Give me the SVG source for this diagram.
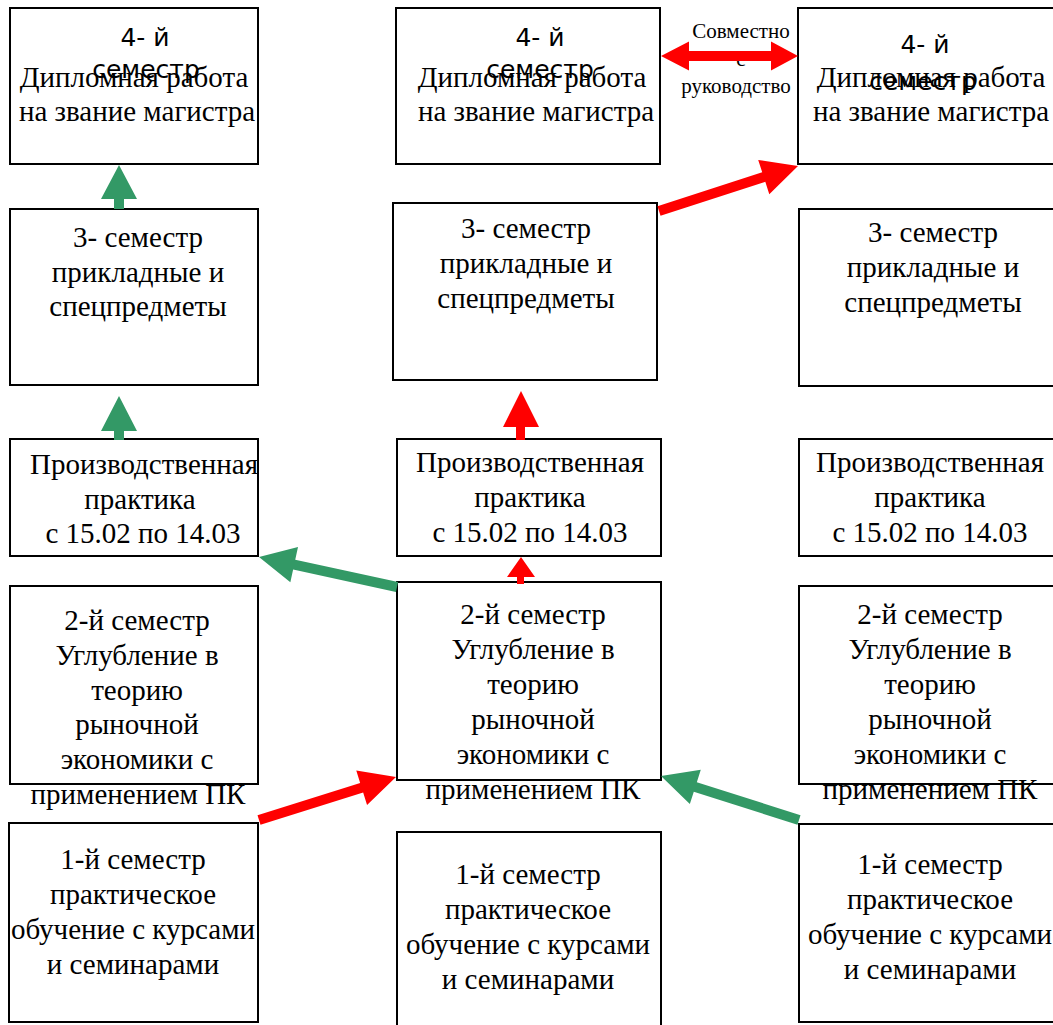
<svg xmlns="http://www.w3.org/2000/svg" width="1053" height="1025" viewBox="0 0 1053 1025">
<style>
.box{fill:#fff;stroke:#000;stroke-width:2}
.t{font-family:"Liberation Serif","Times New Roman",serif;font-size:29px;fill:#000;text-anchor:middle}
.s{font-family:"DejaVu Sans","Liberation Sans",sans-serif;font-size:25px;fill:#000;text-anchor:middle}
.lbl{font-family:"Liberation Serif","Times New Roman",serif;font-size:21px;fill:#000;text-anchor:middle}
.g{fill:#339966}
.r{fill:#ff0000}
</style>
<rect width="1053" height="1025" fill="#fff"/>
<g id="A1"><rect class="box" x="10" y="8" width="248" height="156"/>
<text class="t" x="134"><tspan x="134" y="87">Дипломная работа</tspan><tspan x="137" y="121">на звание магистра</tspan></text>
<text class="s"><tspan x="145" y="46">4- й</tspan><tspan x="146" y="78">семестр</tspan></text></g>
<g id="B1"><rect class="box" x="396" y="8" width="264" height="156"/>
<text class="t"><tspan x="532" y="87">Дипломная работа</tspan><tspan x="536" y="121">на звание магистра</tspan></text>
<text class="s"><tspan x="540" y="46">4- й</tspan><tspan x="540" y="78">семестр</tspan></text></g>
<g id="C1"><rect class="box" x="798" y="8" width="266" height="156"/>
<text class="t"><tspan x="931" y="87">Дипломная работа</tspan><tspan x="931" y="121">на звание магистра</tspan></text>
<text class="s"><tspan x="925" y="53">4- й</tspan><tspan x="923" y="90">семестр</tspan></text></g>
<g id="A2"><rect class="box" x="10" y="209" width="248" height="176"/>
<text class="t"><tspan x="138" y="247">3- семестр</tspan><tspan x="138" y="281.5">прикладные и</tspan><tspan x="138" y="316">спецпредметы</tspan></text></g>
<g id="B2"><rect class="box" x="393" y="203" width="264" height="177"/>
<text class="t"><tspan x="526" y="238">3- семестр</tspan><tspan x="526" y="273">прикладные и</tspan><tspan x="526" y="308">спецпредметы</tspan></text></g>
<g id="C2"><rect class="box" x="799" y="209" width="266" height="177"/>
<text class="t"><tspan x="933" y="242">3- семестр</tspan><tspan x="933" y="277">прикладные и</tspan><tspan x="933" y="312">спецпредметы</tspan></text></g>
<g id="A3"><rect class="box" x="10" y="439" width="248" height="117"/>
<text class="t"><tspan x="144" y="474">Производственная</tspan><tspan x="140" y="509">практика</tspan><tspan x="143" y="543">с 15.02 по 14.03</tspan></text></g>
<g id="B3"><rect class="box" x="397" y="439" width="264" height="117"/>
<text class="t"><tspan x="530" y="472">Производственная</tspan><tspan x="530" y="507">практика</tspan><tspan x="530" y="542">с 15.02 по 14.03</tspan></text></g>
<g id="C3"><rect class="box" x="799" y="439" width="266" height="117"/>
<text class="t"><tspan x="930" y="472">Производственная</tspan><tspan x="930" y="507">практика</tspan><tspan x="930" y="542">с 15.02 по 14.03</tspan></text></g>
<g id="A4"><rect class="box" x="10" y="586" width="248" height="198"/>
<text class="t"><tspan x="137" y="630">2-й семестр</tspan><tspan x="137" y="665">Углубление в</tspan><tspan x="137" y="700">теорию</tspan><tspan x="137" y="734">рыночной</tspan><tspan x="137" y="769">экономики с</tspan><tspan x="138" y="804">применением ПК</tspan></text></g>
<g id="B4"><rect class="box" x="397" y="582" width="264" height="198"/>
<text class="t"><tspan x="533" y="624">2-й семестр</tspan><tspan x="533" y="659">Углубление в</tspan><tspan x="533" y="694">теорию</tspan><tspan x="533" y="729">рыночной</tspan><tspan x="533" y="764">экономики с</tspan><tspan x="533" y="799">применением ПК</tspan></text></g>
<g id="C4"><rect class="box" x="799" y="586" width="266" height="198"/>
<text class="t"><tspan x="930" y="624">2-й семестр</tspan><tspan x="930" y="659">Углубление в</tspan><tspan x="930" y="694">теорию</tspan><tspan x="930" y="729">рыночной</tspan><tspan x="930" y="764">экономики с</tspan><tspan x="930" y="799">применением ПК</tspan></text></g>
<g id="A5"><rect class="box" x="9" y="823" width="249" height="199"/>
<text class="t"><tspan x="133" y="869">1-й семестр</tspan><tspan x="133" y="904">практическое</tspan><tspan x="133" y="939">обучение с курсами</tspan><tspan x="133" y="974">и семинарами</tspan></text></g>
<g id="B5"><rect class="box" x="397" y="832" width="264" height="200"/>
<text class="t"><tspan x="528" y="884">1-й семестр</tspan><tspan x="528" y="919">практическое</tspan><tspan x="528" y="954">обучение с курсами</tspan><tspan x="528" y="989">и семинарами</tspan></text></g>
<g id="C5"><rect class="box" x="799" y="824" width="266" height="198"/>
<text class="t"><tspan x="930" y="874">1-й семестр</tspan><tspan x="930" y="909">практическое</tspan><tspan x="930" y="944">обучение с курсами</tspan><tspan x="930" y="979">и семинарами</tspan></text></g>
<g id="connectors">
<text class="lbl"><tspan x="741" y="38">Совместно</tspan><tspan x="741" y="66">с</tspan><tspan x="736" y="93">руководство</tspan></text>
<polygon class="g" points="114,209 124,209 124,199 137,199 119,165 101,199 114,199"/>
<polygon class="g" points="114,440 124,440 124,431 137,431 119,396 101,431 114,431"/>
<polygon class="r" points="516,440 525,440 525,427 539,427 521,391 503,427 516,427"/>
<polygon class="r" points="517,584 524,584 524,577 535,577 521,557 507,577 517,577"/>
<polygon class="g" points="398.06,582.11 295.24,559.76 298.01,547.06 259,557 290.35,582.24 293.12,569.54 395.94,591.89"/>
<polygon class="r" points="260.5,824.77 363.16,792.55 367.05,804.95 396,777 356.27,770.61 360.16,783.01 257.5,815.23"/>
<polygon class="g" points="800.52,815.23 696.83,782.17 700.78,769.79 661,776 689.84,804.09 693.79,791.71 797.48,824.77"/>
<polygon class="r" points="660.54,215.76 765.29,181.85 769.29,194.22 798,166 758.21,159.96 762.21,172.33 657.46,206.24"/>
<polygon class="r" points="661,56 689,41.5 689,51 771,51 771,41.5 798,56 771,70.5 771,61 689,61 689,70.5"/>
</g>
</svg>
